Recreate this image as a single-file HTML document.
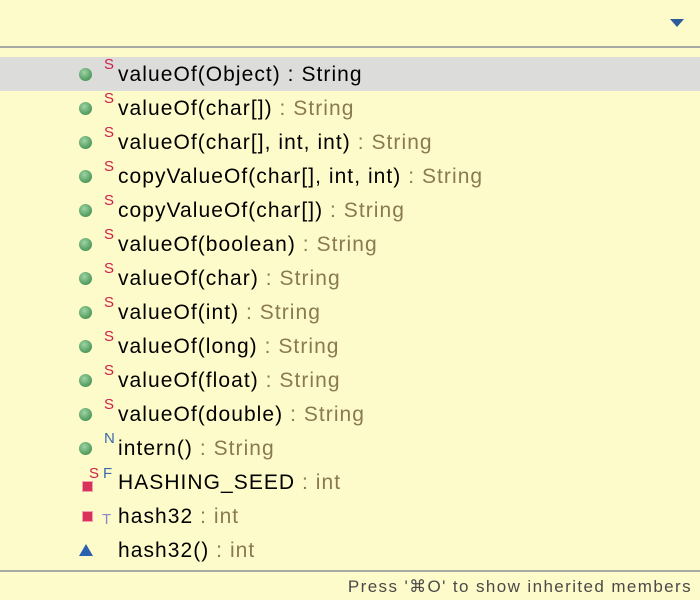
<!DOCTYPE html>
<html><head><style>
body{margin:0;width:700px;height:600px;background:#fdfbc9;font-family:"Liberation Sans",sans-serif;position:relative;overflow:hidden}
.sep{position:absolute;left:0;width:700px;height:2px;background:#a8a8a4}
.row{position:absolute;left:0;width:700px;height:34px;font-size:21px;line-height:35px}
.row .t{position:absolute;left:118px;top:0;color:#000;white-space:nowrap;letter-spacing:1.05px}
.g{color:#8a7a52}
.dot{position:absolute;left:79px;top:11px;width:13px;height:13px;border-radius:50%;background:radial-gradient(circle at 40% 35%,#9fd3a6,#4e9a5c 70%);}
.s{position:absolute;left:104px;top:-10px;font-size:15px;color:#d0204a}
.sel{background:#dcdcdb}
</style></head><body>
<svg style="position:absolute;left:669px;top:17px" width="16" height="12"><polygon points="1,2 15,2 8,10" fill="#2d5b9a"/></svg>
<div class="sep" style="top:46px"></div>
<div class="row sel" style="top:57px"><div class="dot"></div><div class="s">S</div><div class="t">valueOf(Object) : String</div></div>
<div class="row" style="top:91px"><div class="dot"></div><div class="s">S</div><div class="t">valueOf(char[]) <span class="g">: String</span></div></div>
<div class="row" style="top:125px"><div class="dot"></div><div class="s">S</div><div class="t">valueOf(char[], int, int) <span class="g">: String</span></div></div>
<div class="row" style="top:159px"><div class="dot"></div><div class="s">S</div><div class="t">copyValueOf(char[], int, int) <span class="g">: String</span></div></div>
<div class="row" style="top:193px"><div class="dot"></div><div class="s">S</div><div class="t">copyValueOf(char[]) <span class="g">: String</span></div></div>
<div class="row" style="top:227px"><div class="dot"></div><div class="s">S</div><div class="t">valueOf(boolean) <span class="g">: String</span></div></div>
<div class="row" style="top:261px"><div class="dot"></div><div class="s">S</div><div class="t">valueOf(char) <span class="g">: String</span></div></div>
<div class="row" style="top:295px"><div class="dot"></div><div class="s">S</div><div class="t">valueOf(int) <span class="g">: String</span></div></div>
<div class="row" style="top:329px"><div class="dot"></div><div class="s">S</div><div class="t">valueOf(long) <span class="g">: String</span></div></div>
<div class="row" style="top:363px"><div class="dot"></div><div class="s">S</div><div class="t">valueOf(float) <span class="g">: String</span></div></div>
<div class="row" style="top:397px"><div class="dot"></div><div class="s">S</div><div class="t">valueOf(double) <span class="g">: String</span></div></div>
<div class="row" style="top:431px"><div class="dot"></div><div class="s" style="color:#3a6ab0">N</div><div class="t">intern() <span class="g">: String</span></div></div>
<div class="row" style="top:465px">
 <div style="position:absolute;left:82px;top:16px;width:9px;height:9px;background:#d8325a;border:1px solid #f2a0b0"></div>
 <div class="s" style="left:89px;top:-9px">S</div><div class="s" style="left:103px;top:-9px;color:#3a6ab0">F</div>
 <div class="t">HASHING_SEED <span class="g">: int</span></div></div>
<div class="row" style="top:499px">
 <div style="position:absolute;left:82px;top:12px;width:9px;height:9px;background:#d8325a;border:1px solid #f2a0b0"></div>
 <div class="s" style="left:102px;top:3px;color:#8a86d0">T</div>
 <div class="t">hash32 <span class="g">: int</span></div></div>
<div class="row" style="top:533px">
 <svg style="position:absolute;left:78px;top:10px" width="16" height="14"><polygon points="8,1 15,13 1,13" fill="#2b63b0"/></svg>
 <div class="t">hash32() <span class="g">: int</span></div></div>
<div class="sep" style="top:570px"></div>
<div style="position:absolute;right:8px;top:577px;font-size:17px;letter-spacing:1.4px;color:#4a4a4a">Press '⌘O' to show inherited members</div>
</body></html>
